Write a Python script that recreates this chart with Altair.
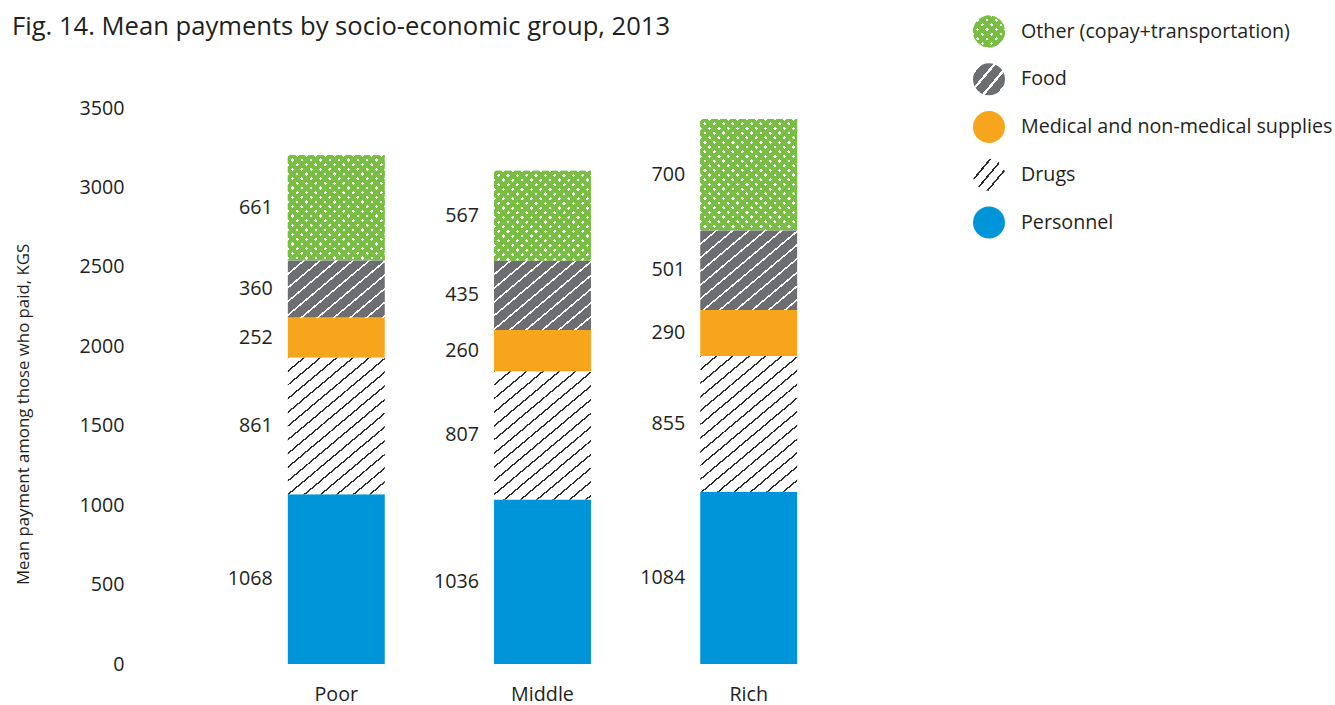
import math
import altair as alt
import pandas as pd

# ---------------- data ----------------
groups = ["Poor", "Middle", "Rich"]
categories = ["Personnel", "Drugs", "Medical and non-medical supplies", "Food", "Other (copay+transportation)"]
personnel = [1068, 1036, 1084]
drugs = [861, 807, 855]
supplies = [252, 260, 290]
food = [360, 435, 501]
other = [661, 567, 700]
legend_order = ["Other (copay+transportation)", "Food", "Medical and non-medical supplies", "Drugs", "Personnel"]
y_ticks = [0, 500, 1000, 1500, 2000, 2500, 3000, 3500]

title_text = "Fig. 14. Mean payments by socio-economic group, 2013"
y_title = "Mean payment among those who paid, KGS"

# ---------------- style ----------------
FONT = "Open Sans"
TXT = "#231f20"
BLUE = "#0095d8"
ORANGE = "#f7a51c"
GRAY = "#6d6e71"
GREEN = "#78be43"
CLEAR = "rgba(255,255,255,0)"

W, H = 817, 556
YMAX = 3500
PAD_IN, PAD_OUT = 0.53, 0.746
STEP = W / (len(groups) - PAD_IN + 2 * PAD_OUT)
BAR_W = STEP * (1 - PAD_IN)
FS = 19.7

series = {
    "Personnel": personnel,
    "Drugs": drugs,
    "Medical and non-medical supplies": supplies,
    "Food": food,
    "Other (copay+transportation)": other,
}

rows = []
for gi, g in enumerate(groups):
    lo = 0
    for c in categories:
        v = series[c][gi]
        rows.append({"group": g, "category": c, "value": v, "lo": lo, "hi": lo + v,
                     "mid": lo + v / 2, "key": f"{g}|{c}"})
        lo += v
df = pd.DataFrame(rows)


def stripe_gradient(w, h, nx, ny, period, line_w, fg, bg, phase=0.0):
    """Linear gradient (bbox units) producing parallel stripes with a given
    pixel period in a w x h box; (nx, ny) is the unit normal of the stripes."""
    corners = [nx * x + ny * y for x, y in [(0, 0), (w, 0), (0, h), (w, h)]]
    tmin, tmax = min(corners), max(corners)
    T = tmax - tmin
    cx, cy = nx * w / T, ny * h / T
    c2 = cx * cx + cy * cy
    a, b = cx / c2, cy / c2
    s = tmin / T
    x1, y1 = s * a, s * b
    stops = [{"offset": 0, "color": bg}]
    k0 = math.floor((tmin - phase) / period) - 1
    k1 = math.ceil((tmax - phase) / period) + 1
    for k in range(k0, k1 + 1):
        c = phase + k * period
        s0 = (c - line_w / 2 - tmin) / T
        s1 = (c + line_w / 2 - tmin) / T
        if s1 <= 0 or s0 >= 1:
            continue
        s0 = round(max(0.0, s0), 5)
        s1 = round(min(1.0, s1), 5)
        stops += [{"offset": s0, "color": bg}, {"offset": s0, "color": fg},
                  {"offset": s1, "color": fg}, {"offset": s1, "color": bg}]
    stops.append({"offset": 1, "color": bg})
    return {"gradient": "linear", "x1": round(x1, 5), "y1": round(y1, 5),
            "x2": round(x1 + a, 5), "y2": round(y1 + b, 5), "stops": stops}


def hatch(w, h, angle, period, line_w, fg, bg, phase=0.0):
    r = math.radians(angle)
    return stripe_gradient(w, h, math.sin(r), math.cos(r), period, line_w, fg, bg, phase)


def dot_layers(w, h, period, gap):
    s = 1 / math.sqrt(2)
    g1 = stripe_gradient(w, h, s, s, period, gap, CLEAR, GREEN)
    g2 = stripe_gradient(w, h, s, -s, period, gap, CLEAR, GREEN)
    return ["white", g1, g2]


# ---------------- main bars ----------------
x_enc = alt.X("group:N", sort=groups,
              scale=alt.Scale(domain=groups, paddingInner=PAD_IN, paddingOuter=PAD_OUT),
              axis=alt.Axis(title=None, domain=False, ticks=False, tickSize=0, labelAngle=0,
                            labelPadding=20, labelFont=FONT, labelFontSize=FS, labelColor=TXT,
                            grid=False))
y_enc = alt.Y("lo:Q", scale=alt.Scale(domain=[0, YMAX], nice=False, zero=True),
              axis=alt.Axis(values=y_ticks, format="d", title=y_title, domain=False, ticks=False,
                            tickSize=0, grid=False, labelPadding=10, labelFont=FONT,
                            labelFontSize=FS, labelColor=TXT, titleFont=FONT, titleFontSize=16.8,
                            titleColor=TXT, titleFontWeight="normal", titleAngle=270,
                            titleX=-106, titleY=306, titleAlign="center",
                            titleBaseline="alphabetic"))

base = alt.Chart(df).encode(x=x_enc, y=y_enc, y2="hi:Q")

bar_layers = []
for gi, g in enumerate(groups):
    for c in categories:
        v = series[c][gi]
        hpx = v * H / YMAX
        sel = base.transform_filter(f"datum.key == '{g}|{c}'")
        if c == "Personnel":
            fills = [BLUE]
        elif c == "Medical and non-medical supplies":
            fills = [ORANGE]
        elif c == "Drugs":
            fills = [hatch(BAR_W, hpx, 40, 10.5, 1.4, "#2b2b2b", "white")]
        elif c == "Food":
            fills = [hatch(BAR_W, hpx, 40, 10.5, 1.6, "white", GRAY)]
        else:
            fills = dot_layers(BAR_W, hpx, 6.6, 2.5)
        for f in fills:
            bar_layers.append(sel.mark_bar(fill=f))

labels = alt.Chart(df).mark_text(align="right", baseline="middle", dx=-(BAR_W / 2 + 15),
                                 font=FONT, fontSize=FS, color=TXT).encode(
    x=alt.X("group:N", sort=groups), y=alt.Y("mid:Q"), text=alt.Text("value:Q"))

main = alt.layer(*bar_layers, labels)

# ---------------- legend ----------------
leg_df = pd.DataFrame({"category": legend_order})
leg_y = alt.Y("category:N", sort=legend_order,
              scale=alt.Scale(domain=legend_order, range=[-76.5, 114.5], padding=0), axis=None)
leg_base = alt.Chart(leg_df).encode(y=leg_y)
D = 32
C50 = 16 * (math.sin(math.radians(50)) + math.cos(math.radians(50)))
leg_fills = {
    "Other (copay+transportation)": dot_layers(D, D, 6.6, 2.5),
    "Food": [hatch(D, D, 50, 11, 2.4, "white", GRAY, phase=C50 + 5.5)],
    "Medical and non-medical supplies": [ORANGE],
    "Drugs": [hatch(D, D, 50, 9, 1.6, "#2b2b2b", "white", phase=C50)],
    "Personnel": [BLUE],
}
leg_layers = []
for c in legend_order:
    sel = leg_base.transform_filter(f"datum.category == '{c}'")
    for f in leg_fills[c]:
        leg_layers.append(sel.mark_point(shape="circle", filled=True, fill=f, size=D * D,
                                         strokeWidth=0, opacity=1).encode(x=alt.value(855)))
leg_text = leg_base.mark_text(align="left", baseline="middle", font=FONT, fontSize=FS,
                              color=TXT).encode(x=alt.value(887), text="category:N")
legend = alt.layer(*leg_layers, leg_text)

chart = alt.layer(main, legend).resolve_scale(y="independent", x="independent").properties(
    width=W, height=H,
    background="white",
    autosize=alt.AutoSizeParams(type="none"),
    padding={"left": 134, "top": 108, "right": 1335 - 134 - W, "bottom": 705 - 108 - H},
    title=alt.TitleParams(title_text, anchor="start", frame="group", dx=-122, offset=0, dy=45,
                          baseline="alphabetic", font=FONT, fontSize=25.6, fontWeight="normal",
                          color=TXT),
).configure_view(stroke="transparent", strokeWidth=0)

chart.save("out.html", embed_options={"renderer": "svg", "actions": False})
